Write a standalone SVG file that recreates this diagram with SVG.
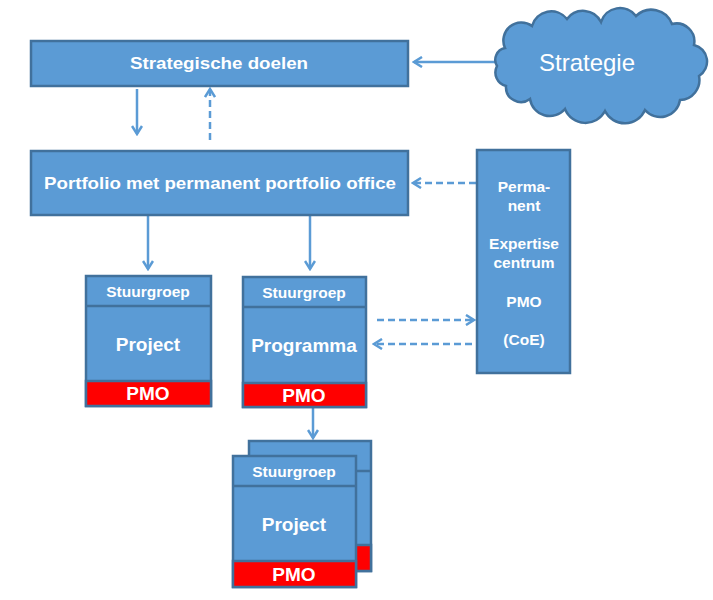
<svg xmlns="http://www.w3.org/2000/svg" width="713" height="600" viewBox="0 0 713 600">
<style>
.box{fill:#5b9bd5;stroke:#41719c;stroke-width:2.5}
.pmo{fill:#ff0000;stroke:#41719c;stroke-width:2.5}
.t{font-family:"Liberation Sans",Arial,sans-serif;font-weight:bold;fill:#ffffff;text-anchor:middle}
.c{stroke:#5b9bd5;stroke-width:2.5;fill:none}
.d{stroke-dasharray:7,4}
</style>
<defs>
<marker id="ah" viewBox="0 0 12 12" refX="10" refY="6" markerWidth="12" markerHeight="12" markerUnits="userSpaceOnUse" orient="auto">
<polyline points="2,1 10,6 2,11" fill="none" stroke="#5b9bd5" stroke-width="2.5"/>
</marker>
</defs>
<rect width="713" height="600" fill="#ffffff"/>
<g id="connectors">
<line class="c" x1="495" y1="62" x2="414" y2="62" marker-end="url(#ah)"/>
<line class="c" x1="137" y1="89" x2="137" y2="134" marker-end="url(#ah)"/>
<line class="c d" x1="210" y1="140" x2="210" y2="89" marker-end="url(#ah)"/>
<line class="c d" x1="476" y1="183" x2="413" y2="183" marker-end="url(#ah)"/>
<line class="c" x1="148" y1="216" x2="148" y2="269" marker-end="url(#ah)"/>
<line class="c" x1="310" y1="216" x2="310" y2="269" marker-end="url(#ah)"/>
<line class="c d" x1="377" y1="320" x2="474" y2="320" marker-end="url(#ah)"/>
<line class="c d" x1="472" y1="344" x2="374" y2="344" marker-end="url(#ah)"/>
<line class="c" x1="313" y1="408" x2="313" y2="438" marker-end="url(#ah)"/>
</g>
<g id="strategie">
<path d="M505,48 A18,18 0 0 1 532,26 A20,20 0 0 1 567,19 A20,20 0 0 1 601,22 A20,20 0 0 1 636,16 A22,22 0 0 1 672,24 A18,18 0 0 1 694,45 A17,17 0 0 1 699,76 A20,20 0 0 1 680,100 A20,20 0 0 1 645,110 A22,22 0 0 1 605,111 A22,22 0 0 1 565,109 A20,20 0 0 1 530,99 A15,15 0 0 1 506,86 A14,14 0 0 1 497,66 A12,12 0 0 1 505,48 Z" fill="#5b9bd5" stroke="#41719c" stroke-width="2.5"/>
<text x="587" y="71" font-family="Liberation Sans, Arial, sans-serif" font-size="24" fill="#ffffff" text-anchor="middle">Strategie</text>
</g>
<g id="strategische-doelen">
<rect class="box" x="31" y="41" width="377" height="45"/>
<text class="t" x="219" y="69" font-size="16" textLength="178" lengthAdjust="spacingAndGlyphs">Strategische doelen</text>
</g>
<g id="portfolio">
<rect class="box" x="31" y="151" width="377" height="64"/>
<text class="t" x="220" y="189" font-size="17" textLength="352" lengthAdjust="spacingAndGlyphs">Portfolio met permanent portfolio office</text>
</g>
<g id="expertise">
<rect class="box" x="477" y="150" width="93" height="223"/>
<text class="t" x="524" y="192" font-size="15.5">Perma-</text>
<text class="t" x="524" y="211" font-size="15.5">nent</text>
<text class="t" x="524" y="249" font-size="15.5">Expertise</text>
<text class="t" x="524" y="268" font-size="15.5">centrum</text>
<text class="t" x="524" y="307" font-size="15.5">PMO</text>
<text class="t" x="524" y="345" font-size="15.5">(CoE)</text>
</g>
<g id="project1">
<rect class="box" x="86" y="276" width="125" height="130"/>
<line x1="86" y1="306" x2="211" y2="306" stroke="#41719c" stroke-width="2.5"/>
<rect class="pmo" x="86" y="381" width="125" height="25"/>
<text class="t" x="148" y="297" font-size="15.5">Stuurgroep</text>
<text class="t" x="148" y="351" font-size="19">Project</text>
<text class="t" x="148" y="400" font-size="19">PMO</text>
</g>
<g id="programma">
<rect class="box" x="243" y="277" width="123" height="130"/>
<line x1="243" y1="307" x2="366" y2="307" stroke="#41719c" stroke-width="2.5"/>
<rect class="pmo" x="243" y="383" width="123" height="24"/>
<text class="t" x="304" y="298" font-size="15.5">Stuurgroep</text>
<text class="t" x="304" y="352" font-size="19">Programma</text>
<text class="t" x="304" y="402" font-size="19">PMO</text>
</g>
<g id="project-back">
<rect class="box" x="249" y="441" width="122" height="130"/>
<line x1="249" y1="471" x2="371" y2="471" stroke="#41719c" stroke-width="2.5"/>
<rect class="pmo" x="249" y="545" width="122" height="26"/>
</g>
<g id="project2">
<rect class="box" x="233" y="456" width="123" height="131"/>
<line x1="233" y1="486" x2="356" y2="486" stroke="#41719c" stroke-width="2.5"/>
<rect class="pmo" x="233" y="561" width="123" height="26"/>
<text class="t" x="294" y="477" font-size="15.5">Stuurgroep</text>
<text class="t" x="294" y="531" font-size="19">Project</text>
<text class="t" x="294" y="581" font-size="19">PMO</text>
</g>
</svg>
